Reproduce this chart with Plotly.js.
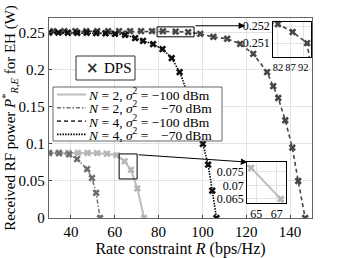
<!DOCTYPE html>
<html>
<head>
<meta charset="utf-8">
<script src="https://cdn.plot.ly/plotly-3.0.1.min.js"></script>
<style>html,body{margin:0;padding:0;background:#fff;}#chart{width:343px;height:258px;}</style>
</head>
<body>
<div id="chart"></div>
<script>
// ---- data ----
var rateN2m100 = [30, 34.4, 38.8, 43.2, 47.6, 52, 56.4, 60.8, 64.5, 67.4, 70.3, 73.4];
var powN2m100  = [0.0882, 0.0882, 0.0881, 0.0880, 0.0878, 0.0875, 0.0868, 0.0848, 0.0765, 0.065, 0.040, 0];

var rateN2m70 = [30, 34.6, 39.2, 42.8, 47.4, 49.6, 51.5, 53.3];
var powN2m70  = [0.0875, 0.0874, 0.0860, 0.0795, 0.066, 0.054, 0.034, 0];

var rateN4m100 = [32, 37, 42, 47, 52, 57, 62, 67, 72, 77, 82, 87.8, 93.5, 99, 105, 111.3, 117.2, 123.2, 129.5, 132.3, 134.6, 137.8, 141, 143.7, 146.9];
var powN4m100  = [0.2523, 0.2523, 0.2523, 0.2523, 0.2523, 0.2523, 0.2523, 0.2522, 0.2522, 0.2522, 0.25212, 0.25165, 0.2510, 0.2485, 0.2445, 0.2420, 0.2350, 0.2216, 0.1970, 0.1780, 0.1620, 0.1320, 0.095, 0.050, 0];

var rateN4m70 = [30, 34.3, 38.6, 42.9, 47.2, 51.5, 55.8, 60.1, 64.7, 69.3, 72.9, 77.5, 81.8, 86, 89.6, 95, 100.2, 102.6, 104.5, 106.4];
var powN4m70  = [0.2502, 0.2502, 0.2501, 0.2500, 0.2499, 0.2496, 0.2492, 0.2485, 0.2473, 0.2428, 0.2392, 0.2347, 0.2280, 0.2158, 0.1970, 0.1550, 0.1000, 0.0720, 0.0370, 0];

var seriesNames = [
  '<i>N</i> = 2, <i>σ</i><sup>2</sup> = −100 dBm',
  '<i>N</i> = 2, <i>σ</i><sup>2</sup> = \u2007\u2009−70 dBm',
  '<i>N</i> = 4, <i>σ</i><sup>2</sup> = −100 dBm',
  '<i>N</i> = 4, <i>σ</i><sup>2</sup> = \u2007\u2009−70 dBm'
];
var dpsName = 'DPS';

var xTicks = [40, 60, 80, 100, 120, 140];
var yTicks = [0, 0.05, 0.1, 0.15, 0.2, 0.25];
var yTickText = ['0', '0.05', '0.1', '0.15', '0.2', '0.25'];
var inset1XTicks = [82, 87, 92];
var inset1YTicks = [0.251, 0.252];
var inset2XTicks = [65, 67];
var inset2YTicks = [0.065, 0.07, 0.075];
var inset2YText = ['0.065', '0.07', '0.075'];

// ---- styles ----
var styles = [
  {color: '#bdbdbd', mcolor: '#b5b5b5', width: 2,   dash: 'solid'},
  {color: '#6e6e6e', mcolor: '#6e6e6e', width: 1.5, dash: '4px,2px,1.5px,2px'},
  {color: '#474747', mcolor: '#474747', width: 1.6, dash: '4px,3px'},
  {color: '#000000', mcolor: '#111111', width: 1.6, dash: '1.5px,1.2px'}
];
var xs = [rateN2m100, rateN2m70, rateN4m100, rateN4m70];
var ys = [powN2m100, powN2m70, powN4m100, powN4m70];

var traces = [];
function addSeries(xa, ya, i) {
  var s = styles[i];
  traces.push({x: xs[i], y: ys[i], mode: 'lines', name: seriesNames[i], showlegend: false,
    xaxis: xa, yaxis: ya,
    line: {color: s.color, width: s.width, dash: s.dash}});
  traces.push({x: xs[i], y: ys[i], mode: 'markers', name: seriesNames[i] + ' DPS', showlegend: false,
    xaxis: xa, yaxis: ya, cliponaxis: xa === 'x',
    marker: {symbol: 'x', size: 6.5, color: s.mcolor, line: {width: 0}}});
}
for (var i = 0; i < 4; i++) addSeries('x', 'y', i);
addSeries('x2', 'y2', 2);
addSeries('x3', 'y3', 0);

var fontFam = 'Liberation Serif';
var gridC = '#e3e3e3';

// paper-coordinate helpers (plot area: 263 x 200 px, origin at px (49,218))
function px(xp) { return (xp - 49) / 263; }
function py(yp) { return (218 - yp) / 200; }

var shapes = [
  {type: 'rect', xref: 'x', yref: 'y', x0: 79.3, x1: 96.2, y0: 0.2446, y1: 0.258, line: {color: '#000', width: 1}},
  {type: 'rect', xref: 'x', yref: 'y', x0: 62, x1: 70.2, y0: 0.0527, y1: 0.0865, line: {color: '#000', width: 1}},
  // DPS legend box
  {type: 'rect', xref: 'paper', yref: 'paper', x0: px(76), x1: px(135), y0: py(80), y1: py(56),
    fillcolor: '#fff', line: {color: '#333', width: 1}, layer: 'above'},
  // curve legend box
  {type: 'rect', xref: 'paper', yref: 'paper', x0: px(53), x1: px(222), y0: py(141), y1: py(87),
    fillcolor: '#fff', line: {color: '#666', width: 1}, layer: 'above'}
];
var annotations = [
  {xref: 'x', yref: 'y', axref: 'x', ayref: 'y', x: 119.5, y: 0.2595, ax: 96.2, ay: 0.2595, text: '', showarrow: true,
    arrowhead: 2, arrowsize: 1.3, arrowwidth: 1, arrowcolor: '#000'},
  {xref: 'x', yref: 'y', axref: 'x', ayref: 'y', x: 120.5, y: 0.0755, ax: 70.2, ay: 0.0855, text: '', showarrow: true,
    arrowhead: 2, arrowsize: 1.3, arrowwidth: 1, arrowcolor: '#000'},
  {xref: 'paper', yref: 'paper', x: px(92), y: py(68), xanchor: 'center', yanchor: 'middle', showarrow: false,
    text: '<b>×</b>', font: {size: 15, color: '#333', family: 'DejaVu Sans'}},
  {xref: 'paper', yref: 'paper', x: px(102), y: py(68), xanchor: 'left', yanchor: 'middle', showarrow: false,
    text: dpsName, font: {size: 15}}
];
for (var k = 0; k < 4; k++) {
  var yc = py(94.5 + 13.3 * k);
  shapes.push({type: 'line', xref: 'paper', yref: 'paper', x0: px(57), x1: px(86), y0: yc, y1: yc, layer: 'above',
    line: {color: styles[k].color, width: styles[k].width, dash: styles[k].dash}});
  annotations.push({xref: 'paper', yref: 'paper', x: px(87), y: yc, xanchor: 'left', yanchor: 'middle',
    text: seriesNames[k], showarrow: false, font: {size: 13.5}, borderpad: 0});
}

var layout = {
  width: 343, height: 258,
  margin: {l: 49, r: 31, t: 18, b: 40},
  paper_bgcolor: '#fff', plot_bgcolor: '#fff',
  font: {family: fontFam, size: 14, color: '#000'},
  showlegend: false,
  xaxis: {domain: [0, 1], range: [30, 150], tickvals: xTicks, ticks: 'inside', ticklen: 3, tickcolor: '#444',
    showgrid: true, gridcolor: gridC, zeroline: false, showline: true, linecolor: '#666', linewidth: 1.2, mirror: true,
    tickfont: {size: 15}, title: {text: 'Rate constraint <i>R</i> (bps/Hz)', font: {size: 16}, standoff: 3}},
  yaxis: {domain: [0, 1], range: [0, 0.27], tickvals: yTicks, ticktext: yTickText, ticks: 'inside', ticklen: 3, tickcolor: '#444',
    showgrid: true, gridcolor: gridC, zeroline: false, showline: true, linecolor: '#666', linewidth: 1.2, mirror: true,
    tickfont: {size: 15}, title: {text: 'Received RF power <i>P</i><sup>*</sup><sub><i>R,E</i></sub> for EH (W)', font: {size: 15}, standoff: 3}},
  xaxis2: {domain: [0.852, 0.996], anchor: 'y2', range: [80.1, 95], tickvals: inset1XTicks, ticks: '', tickangle: 0, showgrid: true, gridcolor: gridC,
    zeroline: false, showline: true, linecolor: '#000', linewidth: 1, mirror: true, tickfont: {size: 10.5}},
  yaxis2: {domain: [0.805, 0.98], anchor: 'x2', range: [0.25018, 0.25224], tickvals: inset1YTicks, ticks: '', showgrid: true, gridcolor: gridC,
    zeroline: false, showline: true, linecolor: '#000', linewidth: 1, mirror: true, tickfont: {size: 12}},
  xaxis3: {domain: [0.753, 0.901], anchor: 'y3', range: [64.1, 67.9], tickvals: inset2XTicks, ticks: '', tickangle: 0, showgrid: true, gridcolor: gridC,
    zeroline: false, showline: true, linecolor: '#000', linewidth: 1, mirror: true, tickfont: {size: 12}},
  yaxis3: {domain: [0.075, 0.28], anchor: 'x3', range: [0.0635, 0.0787], tickvals: inset2YTicks, ticktext: inset2YText, ticks: '', showgrid: true, gridcolor: gridC,
    zeroline: false, showline: true, linecolor: '#000', linewidth: 1, mirror: true, tickfont: {size: 12}},
  shapes: shapes,
  annotations: annotations
};

Plotly.newPlot('chart', traces, layout, {staticPlot: true, displayModeBar: false});
</script>
</body>
</html>
